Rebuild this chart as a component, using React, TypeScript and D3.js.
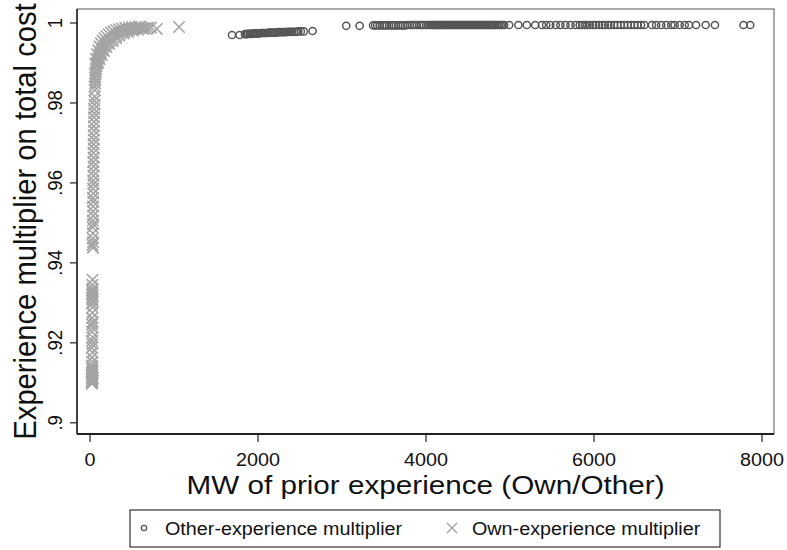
import React from "react";
import * as d3 from "d3";

const W = 787;
const H = 550;
const plot = { left: 77, right: 774, top: 9, bottom: 434 };
const SX = 1.08; // the reference text is a little wider than Arial

const xTicks = [0, 2000, 4000, 6000, 8000];
const yTicks = [0.9, 0.92, 0.94, 0.96, 0.98, 1];
const yTickLabels = [".9", ".92", ".94", ".96", ".98", "1"];

const xTitle = "MW of prior experience (Own/Other)";
const yTitle = "Experience multiplier on total cost";
const legendLabels = ["Other-experience multiplier", "Own-experience multiplier"];

// [MW of other experience, multiplier]
const otherExp: [number, number][] = [
  [1690, 0.997], [1780, 0.997], [1845, 0.9972], [1865, 0.9972], [1880, 0.9973], [1900, 0.9973],
  [1915, 0.9973], [1935, 0.9973], [1950, 0.9974], [1970, 0.9974], [1985, 0.9974], [2000, 0.9974],
  [2020, 0.9974], [2040, 0.9975], [2060, 0.9975], [2075, 0.9975], [2095, 0.9975], [2115, 0.9975],
  [2130, 0.9976], [2150, 0.9976], [2170, 0.9976], [2195, 0.9976], [2215, 0.9976], [2240, 0.9977],
  [2260, 0.9977], [2285, 0.9977], [2310, 0.9977], [2330, 0.9977], [2355, 0.9978], [2380, 0.9978],
  [2405, 0.9978], [2430, 0.9978], [2455, 0.9978], [2480, 0.9979], [2510, 0.9979], [2545, 0.9979],
  [2650, 0.998],
  [3050, 0.9993], [3210, 0.9993], [3370, 0.9994], [3395, 0.9994], [3420, 0.9994], [3450, 0.9994],
  [3480, 0.9994], [3505, 0.9994], [3530, 0.9994], [3560, 0.9994], [3590, 0.9994], [3615, 0.9994],
  [3640, 0.9994], [3670, 0.9994], [3700, 0.9994], [3725, 0.9994], [3750, 0.9994], [3780, 0.9995],
  [3810, 0.9995], [3835, 0.9995], [3860, 0.9995], [3890, 0.9995], [3920, 0.9995], [3945, 0.9995],
  [3970, 0.9995], [4000, 0.9995], [4025, 0.9995], [4050, 0.9995], [4070, 0.9995], [4085, 0.9995],
  [4100, 0.9995], [4115, 0.9995], [4130, 0.9995], [4145, 0.9995], [4160, 0.9995], [4175, 0.9995],
  [4190, 0.9995], [4205, 0.9995], [4220, 0.9995], [4235, 0.9995], [4250, 0.9995], [4265, 0.9995],
  [4280, 0.9995], [4295, 0.9995], [4310, 0.9995], [4325, 0.9995], [4340, 0.9995], [4355, 0.9995],
  [4370, 0.9995], [4385, 0.9995], [4400, 0.9995], [4415, 0.9995], [4430, 0.9995], [4445, 0.9995],
  [4460, 0.9995], [4475, 0.9995], [4490, 0.9995], [4505, 0.9995], [4520, 0.9995], [4535, 0.9995],
  [4550, 0.9995], [4565, 0.9995], [4580, 0.9995], [4595, 0.9995], [4610, 0.9995], [4625, 0.9995],
  [4640, 0.9995], [4655, 0.9995], [4670, 0.9995], [4685, 0.9995], [4700, 0.9995], [4715, 0.9995],
  [4730, 0.9995], [4745, 0.9995], [4760, 0.9995], [4775, 0.9995], [4790, 0.9995], [4805, 0.9995],
  [4820, 0.9995], [4850, 0.9995], [4870, 0.9995], [4890, 0.9995], [4910, 0.9995], [4930, 0.9995],
  [4990, 0.9995], [5100, 0.9995], [5200, 0.9995], [5300, 0.9995], [5380, 0.9995], [5430, 0.9995],
  [5480, 0.9995], [5545, 0.9995], [5600, 0.9995], [5660, 0.9995], [5720, 0.9995], [5780, 0.9995],
  [5830, 0.9995], [5860, 0.9995], [5890, 0.9995], [5920, 0.9995], [5950, 0.9995], [5990, 0.9995],
  [6020, 0.9995], [6060, 0.9995], [6100, 0.9995], [6130, 0.9995], [6170, 0.9995], [6200, 0.9995],
  [6240, 0.9995], [6280, 0.9995], [6320, 0.9995], [6360, 0.9995], [6400, 0.9995], [6440, 0.9995],
  [6480, 0.9995], [6520, 0.9995], [6560, 0.9995], [6600, 0.9995], [6690, 0.9995], [6740, 0.9995],
  [6800, 0.9995], [6860, 0.9995], [6920, 0.9995], [6960, 0.9995], [7020, 0.9995], [7080, 0.9995],
  [7130, 0.9995], [7215, 0.9995], [7330, 0.9995], [7440, 0.9995], [7780, 0.9995], [7860, 0.9995],
];

// [MW of own experience, multiplier]
const ownExp: [number, number][] = [
  [22, 0.9098], [28, 0.91], [18, 0.9103], [31, 0.9105], [25, 0.9108], [20, 0.9111], [33, 0.9112],
  [27, 0.9115], [23, 0.9118], [30, 0.9121], [19, 0.9124], [26, 0.9127], [32, 0.9131], [24, 0.9135],
  [29, 0.9139], [21, 0.9143], [27, 0.9152], [24, 0.9163], [30, 0.9176], [22, 0.9188], [28, 0.9197],
  [25, 0.9205], [31, 0.9214], [23, 0.9228], [29, 0.9238], [26, 0.9246], [32, 0.9253], [24, 0.9262],
  [28, 0.9275], [30, 0.9289], [25, 0.9298], [33, 0.9304], [27, 0.9309], [22, 0.9313], [31, 0.9318],
  [26, 0.9322], [29, 0.9327], [24, 0.9331], [32, 0.9336], [28, 0.9345], [30, 0.9358],
  [34, 0.9438], [30, 0.9445], [36, 0.9452], [32, 0.9461], [35, 0.9474], [31, 0.9489], [37, 0.9497],
  [33, 0.9506], [38, 0.9518], [34, 0.9529], [36, 0.9541], [39, 0.9553], [35, 0.9562], [40, 0.9574],
  [37, 0.9586], [41, 0.9597], [38, 0.9606], [42, 0.9618], [40, 0.9629], [43, 0.9641], [39, 0.9652],
  [44, 0.9663], [41, 0.9675], [45, 0.9686], [42, 0.9697], [46, 0.9708], [44, 0.9719], [48, 0.9731],
  [45, 0.9742], [49, 0.9753], [47, 0.9764], [51, 0.9774], [49, 0.9785], [53, 0.9796], [51, 0.9806],
  [55, 0.9816], [58, 0.9832], [56, 0.9841], [60, 0.9849], [63, 0.9857], [61, 0.9864], [66, 0.9871],
  [69, 0.9878], [72, 0.9885], [78, 0.9892], [84, 0.9899], [90, 0.9905], [98, 0.9911], [107, 0.9917],
  [117, 0.9922], [128, 0.9927], [140, 0.9932], [153, 0.9937], [167, 0.9941], [182, 0.9945],
  [198, 0.9949], [215, 0.9952], [233, 0.9955], [252, 0.9958], [272, 0.9961], [293, 0.9965],
  [315, 0.9968], [338, 0.9971], [362, 0.9974], [387, 0.9977], [413, 0.9979], [440, 0.9981],
  [468, 0.9983], [497, 0.9984], [527, 0.9985], [558, 0.9986], [590, 0.9987], [623, 0.9987],
  [657, 0.9988], [692, 0.9988], [728, 0.9989],
  [60, 0.9898], [70, 0.991], [82, 0.9922], [96, 0.9932], [112, 0.9941], [130, 0.9949], [150, 0.9956],
  [172, 0.9962], [196, 0.9967], [222, 0.9972], [250, 0.9976], [280, 0.9979], [312, 0.9982],
  [346, 0.9984], [382, 0.9986], [420, 0.9988], [460, 0.9989], [500, 0.999], [545, 0.999], [590, 0.9991],
  [95, 0.99], [115, 0.991], [140, 0.992], [165, 0.993], [195, 0.994], [230, 0.9948], [270, 0.9955],
  [310, 0.9962], [350, 0.9968], [400, 0.9974], [450, 0.9978], [510, 0.9981], [570, 0.9983], [640, 0.9985],
  [795, 0.9985], [1060, 0.999],
];

const x = d3.scaleLinear().domain([-155, 8143]).range([plot.left, plot.right]);
const y = d3.scaleLinear().domain([0.8972, 1.0035]).range([plot.bottom, plot.top]);

const crossPath = (s: number) => `M${-s},${-s}L${s},${s}M${-s},${s}L${s},${-s}`;

const circleColor = "#555";
const crossColor = "#a4a4a4";
const font = "'Liberation Sans', Arial, sans-serif";

export default function App() {
  return (
    <svg
      width={W}
      height={H}
      viewBox={`0 0 ${W} ${H}`}
      style={{ position: "absolute", left: 0, top: 0, background: "#fff", display: "block" }}
      fontFamily={font}
    >
      <rect x={0} y={0} width={W} height={H} fill="#fff" />

      {/* plot region frame */}
      <rect
        x={plot.left}
        y={plot.top}
        width={plot.right - plot.left}
        height={plot.bottom - plot.top}
        fill="none"
        stroke="#555"
        strokeWidth={1}
      />

      {/* own experience */}
      <g stroke={crossColor} strokeWidth={1.6} fill="none">
        {ownExp.map((d, i) => (
          <path key={i} d={crossPath(5.7)} transform={`translate(${x(d[0])},${y(d[1])})`} />
        ))}
      </g>

      {/* other experience */}
      <g stroke={circleColor} strokeWidth={1.5} fill="none">
        {otherExp.map((d, i) => (
          <circle key={i} cx={x(d[0])} cy={y(d[1])} r={3.6} />
        ))}
      </g>

      {/* y axis */}
      <line x1={plot.left} x2={plot.left} y1={plot.top} y2={plot.bottom} stroke="#222" strokeWidth={1.5} />
      {yTicks.map((t, i) => (
        <g key={t}>
          <line x1={plot.left - 7} x2={plot.left} y1={y(t)} y2={y(t)} stroke="#222" strokeWidth={1.2} />
          <text
            transform={`translate(62,${y(t)}) scale(${SX},1) rotate(-90)`}
            textAnchor="middle"
            fontSize={18.5}
            fill="#111"
          >
            {yTickLabels[i]}
          </text>
        </g>
      ))}
      <text
        transform={`translate(36,${(plot.top + plot.bottom) / 2}) scale(${SX},1) rotate(-90)`}
        textAnchor="middle"
        fontSize={29.2}
        fill="#111"
      >
        {yTitle}
      </text>

      {/* x axis */}
      <line x1={plot.left} x2={plot.right} y1={plot.bottom} y2={plot.bottom} stroke="#222" strokeWidth={2} />
      {xTicks.map((t) => (
        <g key={t}>
          <line x1={x(t)} x2={x(t)} y1={plot.bottom} y2={plot.bottom + 8} stroke="#222" strokeWidth={1.2} />
          <text
            transform={`translate(${x(t)},465.5) scale(${SX},1)`}
            textAnchor="middle"
            fontSize={18.3}
            fill="#111"
          >
            {t}
          </text>
        </g>
      ))}
      <text
        transform={`translate(${(plot.left + plot.right) / 2},493.5) scale(1.12,1)`}
        textAnchor="middle"
        fontSize={26.5}
        fill="#111"
      >
        {xTitle}
      </text>

      {/* legend */}
      <rect x={130} y={510} width={590} height={37} fill="#fff" stroke="#333" strokeWidth={1.2} />
      <circle cx={144} cy={528} r={2.7} fill="none" stroke={circleColor} strokeWidth={1.2} />
      <text transform={`translate(165,535) scale(${SX},1)`} fontSize={18.3} fill="#111">
        {legendLabels[0]}
      </text>
      <path d={crossPath(5)} transform="translate(452,528)" stroke={crossColor} strokeWidth={1.4} fill="none" />
      <text transform={`translate(472,535) scale(${SX},1)`} fontSize={18.3} fill="#111">
        {legendLabels[1]}
      </text>
    </svg>
  );
}
